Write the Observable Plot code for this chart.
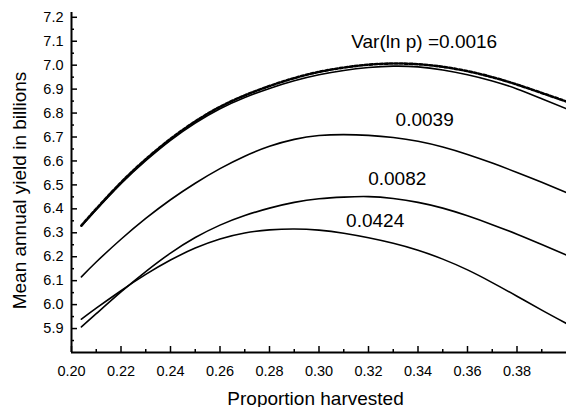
<!DOCTYPE html>
<html>
<head>
<meta charset="utf-8">
<script src="https://cdn.jsdelivr.net/npm/d3@7"></script>
<script src="https://cdn.jsdelivr.net/npm/@observablehq/plot@0.6"></script>
<style>
  html, body { margin: 0; padding: 0; background: white; }
</style>
</head>
<body>
<div id="chart"></div>
<script>
// Proportion harvested (x) sample positions
const proportion = [0.204, 0.21, 0.22, 0.23, 0.24, 0.25, 0.26, 0.27, 0.28, 0.29, 0.30,
                    0.31, 0.32, 0.33, 0.34, 0.35, 0.36, 0.37, 0.38, 0.39, 0.40];
// Mean annual yield in billions, per series
const yield0016dashed = [6.33, 6.40, 6.51, 6.607, 6.692, 6.765, 6.826, 6.874, 6.913, 6.946, 6.972,
                         6.99, 7.002, 7.007, 7.004, 6.993, 6.975, 6.95, 6.919, 6.884, 6.848];
const yield0016 = [6.328, 6.396, 6.505, 6.601, 6.686, 6.758, 6.818, 6.865, 6.903, 6.935, 6.96,
                   6.978, 6.99, 6.996, 6.993, 6.98, 6.96, 6.934, 6.901, 6.86, 6.818];
const yield0039 = [6.116, 6.178, 6.273, 6.36, 6.438, 6.507, 6.568, 6.62, 6.661, 6.69, 6.706,
                   6.71, 6.707, 6.698, 6.682, 6.658, 6.627, 6.591, 6.552, 6.511, 6.468];
const yield0082 = [5.907, 5.962, 6.053, 6.138, 6.215, 6.28, 6.332, 6.372, 6.403, 6.427, 6.442,
                   6.449, 6.451, 6.443, 6.427, 6.403, 6.371, 6.334, 6.294, 6.251, 6.207];
const yield0424 = [5.939, 5.985, 6.058, 6.126, 6.186, 6.236, 6.274, 6.299, 6.312, 6.316, 6.311,
                   6.298, 6.279, 6.256, 6.227, 6.19, 6.145, 6.092, 6.035, 5.977, 5.921];

// Curve labels (text and data-coordinate anchor)
const labelText = ["Var(ln p) =0.0016", "0.0039", "0.0082", "0.0424"];
const labelX = [0.3425, 0.3427, 0.3316, 0.3227];
const labelY = [7.073, 6.744, 6.501, 6.323];

// Tick values
const xMajor = [0.20, 0.22, 0.24, 0.26, 0.28, 0.30, 0.32, 0.34, 0.36, 0.38];
const xMinor = [0.21, 0.23, 0.25, 0.27, 0.29, 0.31, 0.33, 0.35, 0.37, 0.39];
const yMajor = [5.9, 6.0, 6.1, 6.2, 6.3, 6.4, 6.5, 6.6, 6.7, 6.8, 6.9, 7.0, 7.1, 7.2];
const yMinor = [5.85, 5.95, 6.05, 6.15, 6.25, 6.35, 6.45, 6.55, 6.65, 6.75, 6.85, 6.95, 7.05, 7.15];

const xTitle = "Proportion harvested";
const yTitle = "Mean annual yield in billions";

const toRows = (vals, series) => proportion.map((p, i) => ({x: p, y: vals[i], series}));
const solidRows = [
  ...toRows(yield0016, "0.0016"),
  ...toRows(yield0039, "0.0039"),
  ...toRows(yield0082, "0.0082"),
  ...toRows(yield0424, "0.0424")
];
const dashedRows = toRows(yield0016dashed, "0.0016 dashed");
const labels = labelText.map((t, i) => ({text: t, x: labelX[i], y: labelY[i]}));

const fmtY = d3.format(".1f");
const fmtX = d3.format(".2f");
const blank = () => "";

const chart = Plot.plot({
  width: 566,
  height: 407,
  marginLeft: 71,
  marginRight: 0,
  marginTop: 12,
  marginBottom: 55,
  style: {fontFamily: "'Liberation Sans', Arial, sans-serif", fontSize: "14.5px", background: "white", color: "black", overflow: "visible"},
  x: {domain: [0.2, 0.4]},
  y: {domain: [5.8, 7.22]},
  marks: [
    // axis lines
    Plot.ruleX([0.2], {stroke: "black", strokeWidth: 2}),
    Plot.ruleY([5.8], {stroke: "black", strokeWidth: 2}),
    // inward ticks
    Plot.axisY({ticks: yMajor, tickSize: -6, tickFormat: blank, label: null, strokeWidth: 1.5}),
    Plot.axisY({ticks: yMinor, tickSize: -3, tickFormat: blank, label: null, strokeWidth: 1.5}),
    Plot.axisX({ticks: xMajor, tickSize: -6, tickFormat: blank, label: null, strokeWidth: 1.5}),
    Plot.axisX({ticks: xMinor, tickSize: -3, tickFormat: blank, label: null, strokeWidth: 1.5}),
    // tick labels
    Plot.axisY({ticks: yMajor, tickSize: 0, tickPadding: 8, tickFormat: fmtY, label: null, fontSize: 14.5}),
    Plot.axisX({ticks: xMajor, tickSize: 0, tickPadding: 13, tickFormat: fmtX, label: null, fontSize: 14.5}),
    // curves
    Plot.line(solidRows, {x: "x", y: "y", z: "series", stroke: "black", strokeWidth: 1.6, curve: "natural"}),
    Plot.line(dashedRows, {x: "x", y: "y", stroke: "black", strokeWidth: 2.6, strokeDasharray: "3,2", curve: "natural"}),
    // curve labels
    Plot.text(labels, {x: "x", y: "y", text: "text", lineAnchor: "bottom", fontSize: 19, fill: "black"}),
    // axis titles
    Plot.text([xTitle], {frameAnchor: "bottom", textAnchor: "middle", dx: -3.5, dy: 52, lineAnchor: "bottom", fontSize: 19, fill: "black"}),
    Plot.text([yTitle], {frameAnchor: "left", textAnchor: "middle", dx: -46, dy: 8, rotate: -90, lineAnchor: "bottom", fontSize: 19, fill: "black"})
  ]
});
document.getElementById("chart").appendChild(chart);
</script>
</body>
</html>
